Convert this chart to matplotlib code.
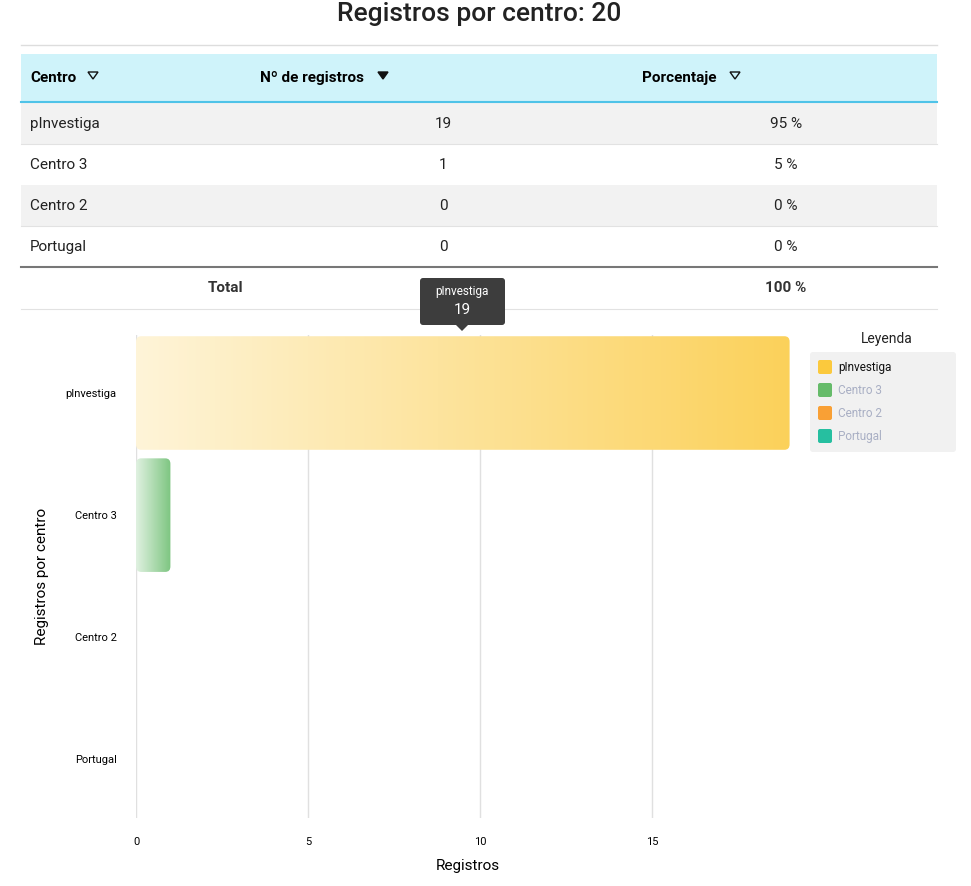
import numpy as np
import matplotlib
matplotlib.use("Agg")
import matplotlib.pyplot as plt
from matplotlib.patches import Rectangle, FancyBboxPatch, Polygon
from matplotlib.colors import LinearSegmentedColormap, to_rgb

plt.rcParams['font.family'] = ['Roboto', 'DejaVu Sans']

centros = ["pInvestiga", "Centro 3", "Centro 2", "Portugal"]
registros = [19, 1, 0, 0]
porcentajes = ["95 %", "5 %", "0 %", "0 %"]
colores = ["#fbc93d", "#66bb6a", "#f9a035", "#26bfa0"]
xticks = [0, 5, 10, 15]
total = 20

W, H = 971, 886
fig = plt.figure(figsize=(W/100, H/100), dpi=100)
bg = fig.add_axes([0, 0, 1, 1])
bg.set_xlim(0, W); bg.set_ylim(H, 0); bg.axis('off')

bg.text(W/2 - 6, 14, f"Registros por centro: {total}", ha='center', va='center', fontsize=19, fontweight='medium', color='#222')
bg.plot([21, 937], [45, 45], color='#dddddd', lw=1)
bg.add_patch(Rectangle((21, 54), 916, 48, color='#cff3fa', lw=0))
bg.plot([21, 937], [102, 102], color='#4fc3e8', lw=1.5)

def tri(x, y, filled):
    bg.add_patch(Polygon([[x-5, y-4], [x+5, y-4], [x, y+3]], closed=True,
                         facecolor='#111' if filled else 'none', edgecolor='#111', lw=1))
bg.text(30, 78, "Centro", va='center', fontsize=11, fontweight='bold')
tri(93, 76, False)
bg.text(260, 78, "Nº de registros", va='center', fontsize=11, fontweight='bold')
tri(383, 76, True)
bg.text(642, 78, "Porcentaje", va='center', fontsize=11, fontweight='bold')
tri(735, 76, False)

row_h = 41
for i, (c, r, p) in enumerate(zip(centros, registros, porcentajes)):
    y0 = 103 + i*row_h
    if i % 2 == 0:
        bg.add_patch(Rectangle((21, y0), 916, row_h, color='#f2f2f2', lw=0))
    else:
        bg.plot([21, 937], [y0, y0], color='#e2e2e2', lw=0.8)
    bg.text(30, y0 + row_h/2, c, va='center', fontsize=11, color='#222')
    bg.text(443, y0 + row_h/2, str(r), va='center', ha='center', fontsize=11, color='#222')
    bg.text(786, y0 + row_h/2, p, va='center', ha='center', fontsize=11, color='#222')
bg.plot([21, 937], [267, 267], color='#777', lw=1.5)
bg.text(226, 288, "Total", va='center', ha='center', fontsize=11, fontweight='bold', color='#333')
bg.text(443, 288, str(sum(registros)), va='center', ha='center', fontsize=11, fontweight='bold', color='#333')
bg.text(786, 288, "100 %", va='center', ha='center', fontsize=11, fontweight='bold', color='#333')
bg.plot([21, 937], [309, 309], color='#e2e2e2', lw=0.8)

# chart
left, right, top, bottom = 136, 800, 335, 818
ax = fig.add_axes([left/W, 1 - bottom/H, (right-left)/W, (bottom-top)/H])
for s in ax.spines.values():
    s.set_visible(False)
ax.set_xticks(xticks)
ax.set_xticklabels([str(t) for t in xticks], fontsize=8)
ax.set_yticks(range(len(centros)))
ax.set_yticklabels(centros, fontsize=8)
ax.tick_params(length=0)
ax.tick_params(axis='x', pad=14)
ax.tick_params(axis='y', pad=14)
ax.grid(axis='x', color='#e0e0e0', lw=1)
ax.set_axisbelow(True)
ax.set_xlabel("Registros", fontsize=11, labelpad=8)
ax.set_ylabel("Registros por centro", fontsize=11, labelpad=12)

bh = 0.93
for i, (v, col) in enumerate(zip(registros, colores)):
    if v <= 0:
        continue
    rgb = np.array(to_rgb(col))
    t = np.linspace(0.2, 0.85, 512)
    img = np.ones((1, 512, 3)) * (1 - t[None, :, None]) + rgb[None, None, :] * t[None, :, None]
    im = ax.imshow(img, aspect='auto', extent=[0, v, i + bh/2, i - bh/2],
                   zorder=2, interpolation='bilinear')
    clip = FancyBboxPatch((0, i - bh/2), v, bh, boxstyle="round,pad=0,rounding_size=0.15",
                          mutation_aspect=0.3, transform=ax.transData,
                          facecolor='none', edgecolor='none')
    ax.add_patch(clip)
    im.set_clip_path(clip)
ax.set_xlim(0, (right-left)/34.4)
ax.set_ylim(3.48, -0.475)

# tooltip
bg.add_patch(FancyBboxPatch((420, 278), 85, 47, boxstyle="round,pad=0,rounding_size=3",
                            facecolor='#3d3d3d', edgecolor='none', zorder=5))
bg.add_patch(Polygon([[456, 325], [468, 325], [462, 331]], closed=True, facecolor='#3d3d3d', zorder=5))
bg.text(462, 292, "pInvestiga", ha='center', va='center', color='white', fontsize=8.5, zorder=6)
bg.text(462, 310, "19", ha='center', va='center', color='white', fontsize=11, zorder=6)

# legend
bg.text(887, 339, "Leyenda", ha='center', va='center', fontsize=10, color='#222')
bg.add_patch(FancyBboxPatch((810, 352), 146, 100, boxstyle="round,pad=0,rounding_size=3",
                            facecolor='#f1f1f1', edgecolor='none'))
for i, (c, col) in enumerate(zip(centros, colores)):
    y = 367 + i*23
    bg.add_patch(FancyBboxPatch((818, y-7), 14, 14, boxstyle="round,pad=0,rounding_size=2",
                                facecolor=col, edgecolor='none'))
    bg.text(838, y, c, va='center', fontsize=8.5, color='#111' if i == 0 else '#a9afc4')

fig.savefig("out.png", dpi=100)
